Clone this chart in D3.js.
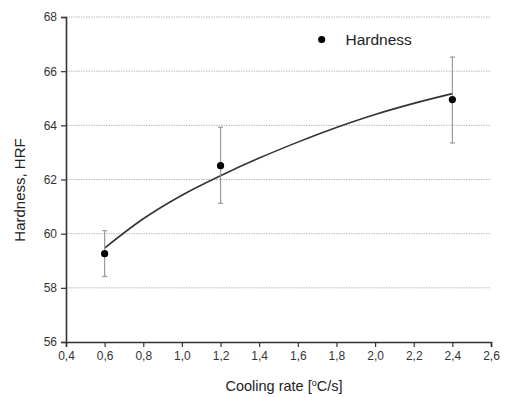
<!DOCTYPE html>
<html><head><meta charset="utf-8">
<script src="https://cdn.jsdelivr.net/npm/d3@7"></script>
<style>body{margin:0;background:#fff;} svg{display:block;font-family:"Liberation Sans",Arial,sans-serif;}</style>
</head><body>
<script>
// Data
const pointX = [0.6, 1.2, 2.4];
const pointY = [59.26, 62.51, 64.95];
const errPlus = [0.85, 1.42, 1.57];
const errMinus = [0.84, 1.39, 1.60];
const fitX = [0.6, 0.8, 1.0, 1.2, 1.4, 1.6, 1.8, 2.0, 2.2, 2.4];
const fitY = [59.47, 60.55, 61.42, 62.14, 62.79, 63.38, 63.92, 64.4, 64.81, 65.17];
const xTicks = [0.4, 0.6, 0.8, 1.0, 1.2, 1.4, 1.6, 1.8, 2.0, 2.2, 2.4, 2.6];
const yTicks = [56, 58, 60, 62, 64, 66, 68];
const seriesName = "Hardness";

const W = 506, H = 397;
const m = {l: 66, r: 15, t: 17, b: 55};
const svg = d3.select("body").append("svg").attr("width", W).attr("height", H);
const x = d3.scaleLinear().domain([0.4, 2.6]).range([m.l, W - m.r]);
const y = d3.scaleLinear().domain([56, 68]).range([H - m.b, m.t]);

// grid
svg.append("g").selectAll("line").data(yTicks.filter(v => v > 56)).join("line")
  .attr("x1", x(0.4)).attr("x2", x(2.6)).attr("y1", d => y(d)).attr("y2", d => y(d))
  .attr("stroke", "#b8b8b8").attr("stroke-width", 1).attr("stroke-dasharray", "1.5,1");

const fmt = d => d3.format(".1f")(d).replace(".", ",");
// x axis
const xMinor = d3.range(0.5, 2.6, 0.2).map(v => +v.toFixed(1));
const gx = svg.append("g").attr("transform", `translate(0,${y(56)})`);
gx.call(d3.axisBottom(x).tickValues(xMinor).tickSize(3).tickFormat(""));
gx.call(d3.axisBottom(x).tickValues(xTicks).tickSize(5).tickPadding(4).tickFormat(fmt));
const yMinor = d3.range(57, 68, 2);
const gy = svg.append("g").attr("transform", `translate(${x(0.4)},0)`);
gy.call(d3.axisLeft(y).tickValues(yMinor).tickSize(3).tickFormat(""));
gy.call(d3.axisLeft(y).tickValues(yTicks).tickSize(5).tickPadding(4).tickFormat(d3.format("d")));
svg.selectAll(".domain").attr("stroke", "#333").attr("stroke-width", 1.6);
svg.selectAll(".tick line").attr("stroke", "#333").attr("stroke-width", 1.2);
svg.selectAll(".tick text").attr("fill", "#333").style("font-size", "12px");

// fit line
svg.append("path").datum(fitX.map((v, i) => [v, fitY[i]]))
  .attr("d", d3.line().x(d => x(d[0])).y(d => y(d[1])).curve(d3.curveMonotoneX))
  .attr("fill", "none").attr("stroke", "#333").attr("stroke-width", 1.6);

// error bars
const eb = svg.append("g").attr("stroke", "#999").attr("stroke-width", 1.2);
pointX.forEach((px, i) => {
  const top = y(pointY[i] + errPlus[i]), bot = y(pointY[i] - errMinus[i]);
  eb.append("line").attr("x1", x(px)).attr("x2", x(px)).attr("y1", top).attr("y2", bot);
  eb.append("line").attr("x1", x(px) - 2.5).attr("x2", x(px) + 2.5).attr("y1", top).attr("y2", top);
  eb.append("line").attr("x1", x(px) - 2.5).attr("x2", x(px) + 2.5).attr("y1", bot).attr("y2", bot);
});
// points
svg.append("g").selectAll("circle").data(pointX).join("circle")
  .attr("cx", d => x(d)).attr("cy", (d, i) => y(pointY[i])).attr("r", 3.6).attr("fill", "#000");

// legend
svg.append("circle").attr("cx", 321.7).attr("cy", 39.5).attr("r", 3.6).attr("fill", "#000");
svg.append("text").attr("x", 345.5).attr("y", 45).attr("fill", "#222").style("font-size", "15.5px").text(seriesName);

// axis titles
const xt = svg.append("text").attr("x", 284).attr("y", 391).attr("text-anchor", "middle")
  .attr("fill", "#222").style("font-size", "14.5px");
xt.append("tspan").text("Cooling rate [");
xt.append("tspan").attr("dy", -5).style("font-size", "9px").text("o");
xt.append("tspan").attr("dy", 5).text("C/s]");
svg.append("text").attr("transform", "translate(25,190) rotate(-90)").attr("text-anchor", "middle")
  .attr("fill", "#222").style("font-size", "15px").text("Hardness, HRF");
</script>
</body></html>
